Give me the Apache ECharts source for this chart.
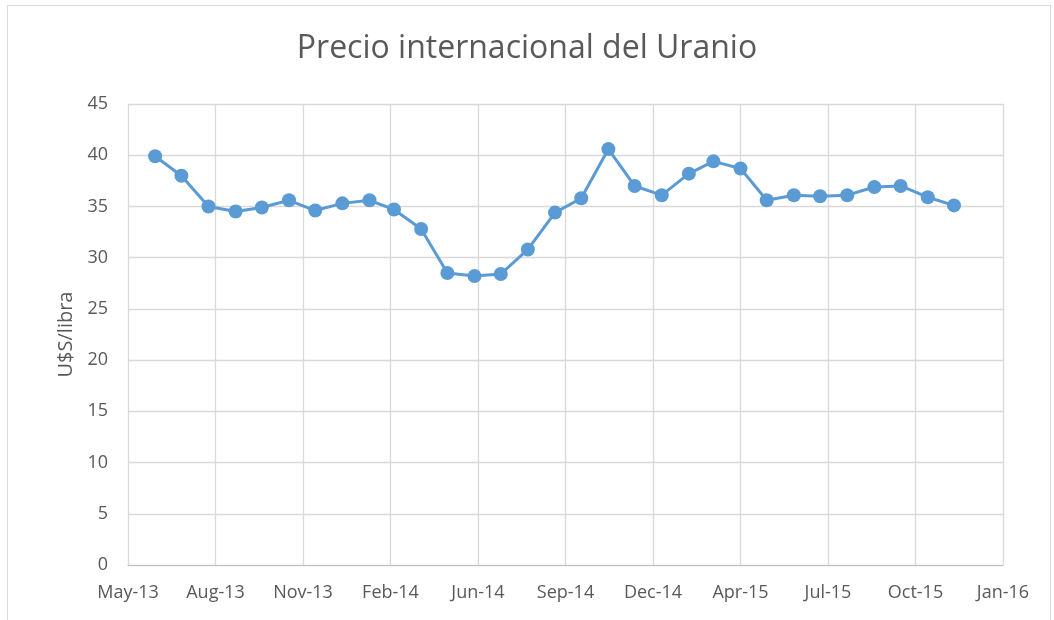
<!DOCTYPE html>
<html>
<head>
<meta charset="utf-8">
<script src="https://cdn.jsdelivr.net/npm/echarts@6/dist/echarts.min.js"></script>
<style>
  html, body { margin: 0; padding: 0; background: #fff; }
  #marco { position: absolute; left: 7px; top: 5px; width: 1042px; height: 700px; border: 1px solid #d9d9d9; }
  #grafico { position: absolute; left: 0; top: 0; width: 1054px; height: 620px; }
</style>
</head>
<body>
<div id="marco"></div>
<div id="grafico"></div>
<script>
// meses (primer día de cada mes) y precio del uranio en U$S/libra
const meses = [
  "2013-06", "2013-07", "2013-08", "2013-09", "2013-10", "2013-11", "2013-12",
  "2014-01", "2014-02", "2014-03", "2014-04", "2014-05", "2014-06", "2014-07",
  "2014-08", "2014-09", "2014-10", "2014-11", "2014-12", "2015-01", "2015-02",
  "2015-03", "2015-04", "2015-05", "2015-06", "2015-07", "2015-08", "2015-09",
  "2015-10", "2015-11", "2015-12"
];
const precios = [
  39.9, 38.0, 35.0, 34.5, 34.9, 35.6, 34.6,
  35.3, 35.6, 34.7, 32.8, 28.5, 28.2, 28.4,
  30.8, 34.4, 35.8, 40.6, 37.0, 36.1, 38.2,
  39.4, 38.7, 35.6, 36.1, 36.0, 36.1, 36.9,
  37.0, 35.9, 35.1
];
const ticksY = [0, 5, 10, 15, 20, 25, 30, 35, 40, 45];
const nombresMes = ["Jan", "Feb", "Mar", "Apr", "May", "Jun", "Jul", "Aug", "Sep", "Oct", "Nov", "Dec"];

// eje X en días desde el 1 de mayo de 2013 (como el eje de fechas de Excel)
const base = Date.UTC(2013, 4, 1);
const DIA = 86400000;

function diasDesdeBase(mes) {
  const [a, m] = mes.split("-").map(Number);
  return Math.round((Date.UTC(a, m - 1, 1) - base) / DIA);
}

function etiquetaFecha(v) {
  const d = new Date(base + v * DIA);
  return nombresMes[d.getUTCMonth()] + "-" + String(d.getUTCFullYear()).slice(2);
}

const datos = meses.map((m, i) => [diasDesdeBase(m), precios[i]]);

const fuente = "'Open Sans', 'Liberation Sans', sans-serif";
const grafico = echarts.init(document.getElementById("grafico"));

grafico.setOption({
  animation: false,
  title: {
    text: "Precio internacional del Uranio",
    left: "center",
    top: 28,
    textStyle: { fontFamily: fuente, fontSize: 32, fontWeight: "normal", color: "#595959" }
  },
  grid: { left: 128, right: 51, top: 104, bottom: 55 },
  xAxis: {
    type: "value",
    min: 0,
    max: 1000,
    interval: 100,
    axisLine: { show: true, lineStyle: { color: "#bfbfbf", width: 1 } },
    axisTick: { show: false },
    splitLine: { show: true, lineStyle: { color: "#d9d9d9", width: 1.3 } },
    axisLabel: {
      formatter: etiquetaFecha,
      margin: 19,
      fontFamily: fuente,
      fontSize: 18,
      color: "#595959"
    }
  },
  yAxis: {
    type: "value",
    min: ticksY[0],
    max: ticksY[ticksY.length - 1],
    interval: 5,
    name: "U$S/libra",
    nameLocation: "middle",
    nameGap: 52,
    nameTextStyle: { fontFamily: fuente, fontSize: 20, color: "#595959" },
    axisLine: { show: false },
    axisTick: { show: false },
    splitLine: { show: true, lineStyle: { color: "#d9d9d9", width: 1.3 } },
    axisLabel: { margin: 20, fontFamily: fuente, fontSize: 18, color: "#595959" }
  },
  series: [
    {
      type: "line",
      data: datos,
      symbol: "circle",
      symbolSize: 14,
      lineStyle: { color: "#5b9bd5", width: 3 },
      itemStyle: { color: "#5b9bd5" }
    }
  ]
});
</script>
</body>
</html>
